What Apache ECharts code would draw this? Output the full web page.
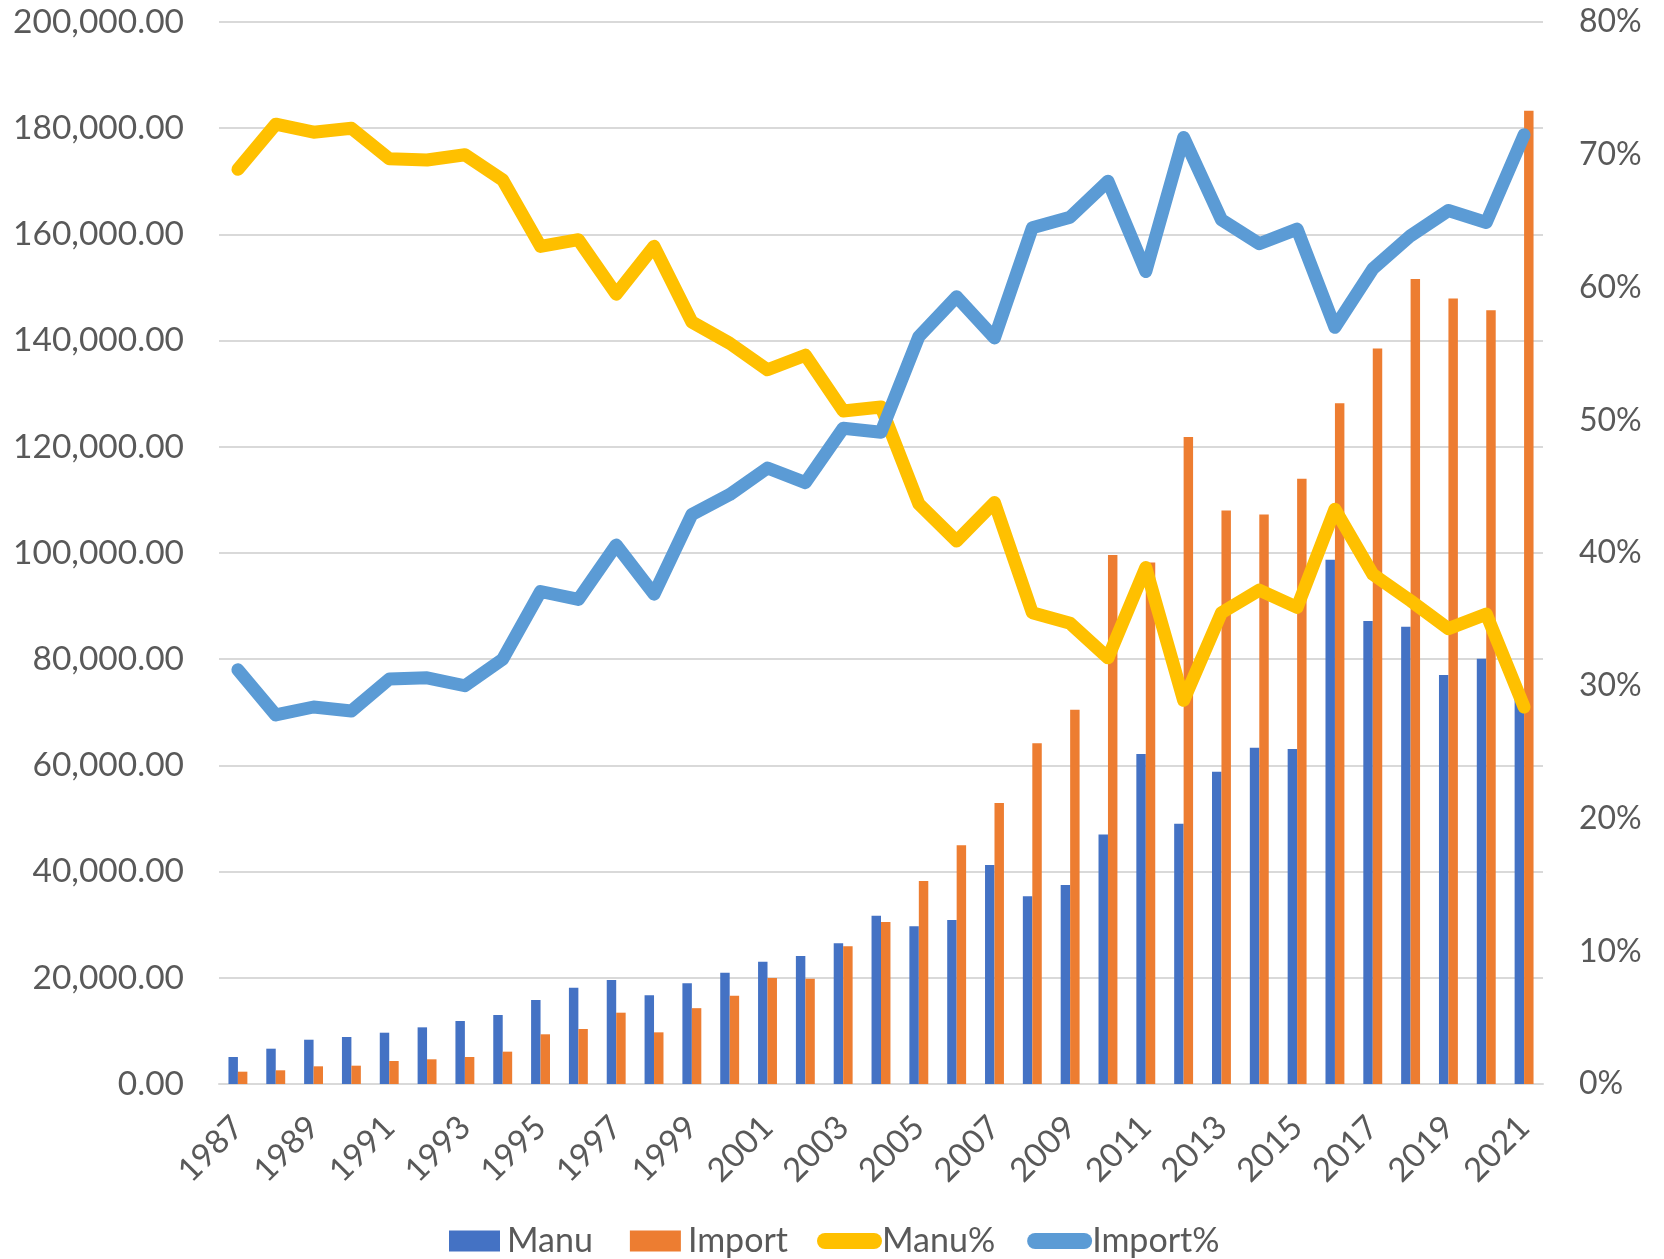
<!DOCTYPE html>
<html>
<head>
<meta charset="utf-8">
<script src="https://cdn.jsdelivr.net/npm/echarts@6/dist/echarts.min.js"></script>
<style>
  html, body { margin: 0; padding: 0; background: #fff; }
  #chart { width: 1664px; height: 1259px; }
</style>
</head>
<body>
<div id="chart"></div>
<script>
// years on the category axis
var years = [];
for (var y = 1987; y <= 2021; y++) years.push(String(y));

var manu = [5080, 6650, 8340, 8850, 9660, 10670, 11860, 12990, 15820, 18140,
    19580, 16700, 18960, 20960, 23030, 24100, 26490, 31690, 29690, 30880,
    41240, 35340, 37470, 47000, 62140, 49000, 58790, 63330, 63080, 98710,
    87180, 86090, 77010, 80080, 72500];
var imports = [2320, 2580, 3330, 3450, 4330, 4650, 5080, 6090, 9360, 10360,
    13430, 9730, 14280, 16630, 19960, 19830, 25930, 30500, 38220, 44950,
    52910, 64150, 70480, 99600, 98220, 121830, 108010, 107270, 114000, 128210,
    138500, 151580, 147910, 145710, 183290];
var manuPct = [68.9, 72.3, 71.7, 72.0, 69.7, 69.6, 70.0, 68.1, 63.1, 63.6,
    59.5, 63.1, 57.4, 55.8, 53.8, 54.9, 50.7, 51.0, 43.7, 40.9,
    43.8, 35.5, 34.7, 32.1, 38.9, 28.9, 35.5, 37.2, 35.9, 43.3,
    38.4, 36.4, 34.3, 35.4, 28.4];
var importPct = [31.2, 27.8, 28.4, 28.1, 30.5, 30.6, 30.0, 32.0, 37.1, 36.5,
    40.6, 36.9, 42.9, 44.4, 46.4, 45.3, 49.4, 49.1, 56.3, 59.3,
    56.2, 64.5, 65.3, 68.0, 61.2, 71.3, 65.1, 63.3, 64.4, 57.0,
    61.4, 63.9, 65.8, 64.9, 71.5];

var FONT = 'Lato';
var GREY = '#595959';
var capsule = 'path://M8,0 H57 A8,8 0 0 1 57,16 H8 A8,8 0 0 1 8,0 Z';

var myChart = echarts.init(document.getElementById('chart'));

var option = {
    animation: false,
    textStyle: { fontFamily: FONT },
    grid: { left: 219, right: 121, top: 22, bottom: 175 },
    legend: [{
        left: 444, top: 1219,
        itemWidth: 51, itemHeight: 21, itemGap: 37,
        icon: 'rect',
        textStyle: { fontFamily: FONT, fontSize: 34, color: GREY, padding: [0, 0, 0, 2] },
        data: ['Manu', 'Import']
    }, {
        left: 812, top: 1219,
        itemWidth: 65, itemHeight: 17, itemGap: 32,
        icon: capsule,
        textStyle: { fontFamily: FONT, fontSize: 34, color: GREY, padding: [0, 0, 0, -5] },
        data: ['Manu%', 'Import%']
    }],
    xAxis: {
        type: 'category',
        data: years,
        axisLine: { lineStyle: { color: '#d9d9d9', width: 2 } },
        axisTick: { show: false },
        axisLabel: {
            interval: 1, rotate: 45, margin: 38,
            fontSize: 33, color: GREY, fontFamily: FONT
        }
    },
    yAxis: [{
        type: 'value',
        min: 0, max: 200000, interval: 20000,
        axisLine: { show: false },
        axisTick: { show: false },
        splitLine: { lineStyle: { color: '#d9d9d9', width: 2 } },
        axisLabel: {
            margin: 35, fontSize: 33.5, color: GREY, fontFamily: FONT,
            formatter: function (v) {
                return v.toLocaleString('en-US', { minimumFractionDigits: 2, maximumFractionDigits: 2 });
            }
        }
    }, {
        type: 'value',
        position: 'right',
        min: 0, max: 80, interval: 10,
        axisLine: { show: false },
        axisTick: { show: false },
        splitLine: { show: false },
        axisLabel: { margin: 36, fontSize: 32, color: GREY, fontFamily: FONT, formatter: '{value}%' }
    }],
    series: [{
        name: 'Manu', type: 'bar',
        data: manu,
        barWidth: '25%', barGap: '0%',
        itemStyle: { color: '#4472C4' }
    }, {
        name: 'Import', type: 'bar',
        data: imports,
        barWidth: '25%', barGap: '0%',
        itemStyle: { color: '#ED7D31' }
    }, {
        name: 'Manu%', type: 'line',
        yAxisIndex: 1,
        data: manuPct,
        symbol: 'none',
        itemStyle: { color: '#FFC000' },
        lineStyle: { color: '#FFC000', width: 13, cap: 'round', join: 'round' }
    }, {
        name: 'Import%', type: 'line',
        yAxisIndex: 1,
        data: importPct,
        symbol: 'none',
        itemStyle: { color: '#5B9BD5' },
        lineStyle: { color: '#5B9BD5', width: 13, cap: 'round', join: 'round' }
    }]
};

myChart.setOption(option);
</script>
</body>
</html>
